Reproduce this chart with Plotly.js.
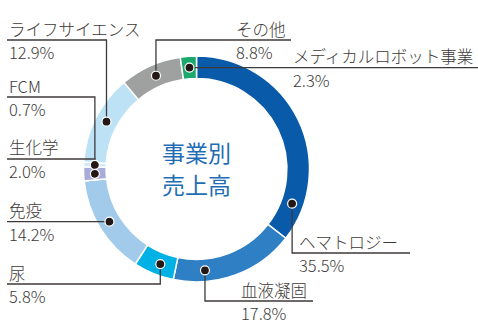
<!DOCTYPE html>
<html>
<head>
<meta charset="utf-8">
<script src="https://cdn.plot.ly/plotly-3.0.1.min.js"></script>
<style>
  html, body { margin: 0; padding: 0; background: #fff; }
  #chart { width: 478px; height: 327px; }
</style>
</head>
<body>
<div id="chart"></div>
<script>
// Segment data (clockwise from 12 o'clock)
const segments = ['ヘマトロジー', '血液凝固', '尿', '免疫', '生化学', 'FCM', 'ライフサイエンス', 'その他', 'メディカルロボット事業'];
const shares = [35.5, 17.8, 5.8, 14.2, 2.0, 0.7, 12.9, 8.8, 2.3];
const segColors = ['#0a5aaa', '#2f7fc4', '#00b1e6', '#a2cbeb', '#a8acd8', '#d3ebf7', '#bde2f6', '#9fa0a0', '#1ba86c'];
const centerLines = ['事業別', '売上高'];

// Label placement (pixels)
const W = 478, H = 327;
const cx = 196.5, cy = 169, R = 113, hole = 0.8;
const dotPos = [0.86, 0.74, 0.43, 0.51, 0.47, 0.48, 0.52, 0.52, 0.52]; // where the dot sits inside its slice
const elbowY = [253, 301, 284, null, 159, 97, 40, 40, null];          // null = straight horizontal from dot
const endX = [410, 313, 7, 7, 7, 7, 7, 291, 478];
const textX = [297, 239, 7, 7, 7, 7, 7, 234, 291];

const textColor = '#3e3a39';
const font = 'Noto Sans CJK JP, Noto Sans, sans-serif';

const px = x => x / W;
const py = y => 1 - y / H;

const total = shares.reduce((a, b) => a + b, 0);
const rMid = R * (1 + hole) / 2;

const shapes = [];
const annotations = [];
let cum = 0;

shares.forEach((v, i) => {
  const a0 = cum / total * 360;
  cum += v;
  const a1 = cum / total * 360;
  const th = (a0 + dotPos[i] * (a1 - a0)) * Math.PI / 180;
  const dx = cx + rMid * Math.sin(th);
  const dy = cy - rMid * Math.cos(th);

  const lineY = elbowY[i] === null ? dy : elbowY[i];
  let path = `M${px(dx)},${py(dy)}`;
  if (elbowY[i] !== null) path += ` L${px(dx)},${py(lineY)}`;
  path += ` L${px(endX[i])},${py(lineY)}`;
  shapes.push({
    type: 'path', xref: 'paper', yref: 'paper', path: path,
    line: { color: textColor, width: 1.3 }
  });
  shapes.push({
    type: 'circle', xref: 'paper', yref: 'paper',
    x0: px(dx - 4.5), x1: px(dx + 4.5), y0: py(dy + 4.5), y1: py(dy - 4.5),
    fillcolor: '#231815', line: { color: '#ffffff', width: 1.2 }
  });

  annotations.push({
    xref: 'paper', yref: 'paper', x: px(textX[i]), y: py(lineY - 11.5),
    xanchor: 'left', yanchor: 'middle', showarrow: false,
    text: segments[i], font: { family: font, size: 16.5, weight: 300, color: textColor }
  });
  annotations.push({
    xref: 'paper', yref: 'paper', x: px(textX[i]), y: py(lineY + 12),
    xanchor: 'left', yanchor: 'middle', showarrow: false,
    text: v.toFixed(1) + '%', font: { family: font, size: 16.5, weight: 300, color: textColor }
  });
});

centerLines.forEach((t, i) => {
  annotations.push({
    xref: 'paper', yref: 'paper', x: px(cx), y: py(152 + i * 32),
    xanchor: 'center', yanchor: 'middle', showarrow: false,
    text: t, font: { family: font, size: 23, color: '#1f6db5' }
  });
});

const pie = {
  type: 'pie',
  labels: segments,
  values: shares,
  sort: false,
  direction: 'clockwise',
  rotation: 0,
  hole: hole,
  textinfo: 'none',
  hoverinfo: 'label+percent',
  marker: { colors: segColors, line: { color: '#ffffff', width: 1.5 } },
  domain: {
    x: [px(cx - R), px(cx + R)],
    y: [py(cy + R), py(cy - R)]
  }
};

const layout = {
  width: W,
  height: H,
  margin: { t: 0, b: 0, l: 0, r: 0 },
  showlegend: false,
  paper_bgcolor: '#ffffff',
  shapes: shapes,
  annotations: annotations
};

Plotly.newPlot('chart', [pie], layout, { displayModeBar: false, staticPlot: true });
</script>
</body>
</html>
